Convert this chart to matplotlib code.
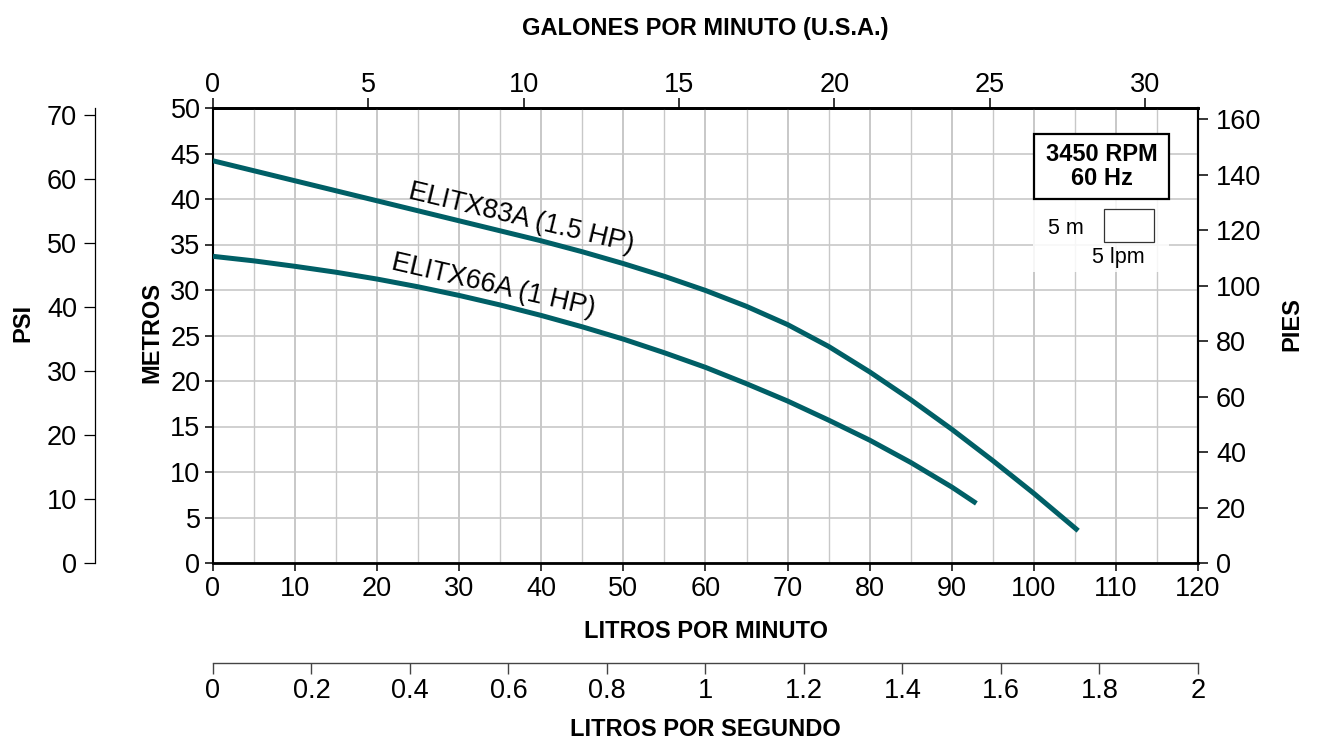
import matplotlib
matplotlib.use("Agg")
import matplotlib.pyplot as plt
from matplotlib.patches import Rectangle
from matplotlib.ticker import MultipleLocator, FuncFormatter

plt.rcParams['font.family'] = ['Liberation Sans', 'DejaVu Sans']

# ---- data ----
lpm_83 = [0, 5, 10, 15, 20, 25, 30, 35, 40, 45, 50, 55, 60, 65, 70, 75, 80, 85, 90, 95, 100, 105.4]
m_83 = [44.2, 43.1, 42.0, 40.9, 39.8, 38.7, 37.6, 36.5, 35.4, 34.2, 32.9, 31.5, 29.95,
        28.2, 26.2, 23.8, 21.0, 17.95, 14.7, 11.25, 7.65, 3.55]
lpm_66 = [0, 5, 10, 15, 20, 25, 30, 35, 40, 45, 50, 55, 60, 65, 70, 75, 80, 85, 90, 93.0]
m_66 = [33.7, 33.2, 32.6, 31.95, 31.2, 30.35, 29.4, 28.35, 27.2, 25.95, 24.6, 23.1, 21.5,
        19.7, 17.8, 15.7, 13.5, 11.05, 8.35, 6.55]
curve_labels = ["ELITX83A (1.5 HP)", "ELITX66A (1 HP)"]

lpm_ticks = list(range(0, 121, 10))
m_ticks = list(range(0, 51, 5))
gpm_ticks = list(range(0, 31, 5))
ft_ticks = list(range(0, 161, 20))
psi_ticks = list(range(0, 71, 10))
lps_ticks = [0, 0.2, 0.4, 0.6, 0.8, 1, 1.2, 1.4, 1.6, 1.8, 2]

L_PER_GAL = 3.78541
PSI_PER_M = 1.42233
FT_PER_M = 3.28084

COLOR = "#005f66"
GRID = "#c8c8c8"
TICK_FS = 19.5
TITLE_FS = 17

W, H = 1318, 744
fig = plt.figure(figsize=(W / 100, H / 100), dpi=100)
Lp, Rp, Tp, Bp = 213, 1198, 108, 563
ax = fig.add_axes([Lp / W, 1 - Bp / H, (Rp - Lp) / W, (Bp - Tp) / H])

ax.set_xlim(0, 120)
ax.set_ylim(0, 50)
ax.set_xticks(lpm_ticks)
ax.set_yticks(m_ticks)
ax.xaxis.set_minor_locator(MultipleLocator(5))
ax.set_axisbelow(True)
ax.grid(which='major', axis='x', color=GRID, lw=1.4)
ax.grid(which='minor', axis='x', color=GRID, lw=1.0)
ax.grid(which='major', axis='y', color=GRID, lw=1.2)
ax.tick_params(axis='both', which='major', direction='out', length=6, width=1.1,
               labelsize=TICK_FS, pad=3)
ax.tick_params(axis='x', which='minor', length=0)
ax.spines['top'].set_linewidth(2.0)
ax.spines['bottom'].set_linewidth(2.0)
ax.spines['left'].set_linewidth(1.5)
ax.spines['right'].set_linewidth(1.5)

ax.plot(lpm_83, m_83, color=COLOR, lw=3.6, solid_capstyle='butt',
        solid_joinstyle='round', zorder=3)
ax.plot(lpm_66, m_66, color=COLOR, lw=3.6, solid_capstyle='butt',
        solid_joinstyle='round', zorder=3)

ax.text(37.6, 37.9, curve_labels[0], fontsize=19.5, rotation=-13.5,
        ha='center', va='center', rotation_mode='anchor', zorder=4)
ax.text(34.2, 30.5, curve_labels[1], fontsize=19.5, rotation=-13.0,
        ha='center', va='center', rotation_mode='anchor', zorder=4)

# legend-like box
ax.add_patch(Rectangle((0.8325, 0.6396), 0.9706 - 0.8325, 0.8 - 0.6396,
                       transform=ax.transAxes, facecolor='white', edgecolor='none',
                       alpha=0.85, zorder=1))
ax.add_patch(Rectangle((0.8335, 0.80), 0.9706 - 0.8335, 0.9429 - 0.80,
                       transform=ax.transAxes, facecolor='white', edgecolor='black',
                       lw=1.6, zorder=2))
ax.text(0.902, 0.8714, "3450 RPM\n60 Hz", transform=ax.transAxes, fontsize=17,
        fontweight='bold', ha='center', va='center', linespacing=1.05, zorder=3)
ax.add_patch(Rectangle((0.9046, 0.7048), 0.9553 - 0.9046, 0.7787 - 0.7048,
                       transform=ax.transAxes, facecolor='white', edgecolor='#333333',
                       lw=0.9, zorder=2))
ax.text(0.866, 0.7341, "5 m", transform=ax.transAxes, fontsize=15.5,
        ha='center', va='center', zorder=3)
ax.text(0.9188, 0.6725, "5 lpm", transform=ax.transAxes, fontsize=15.5,
        ha='center', va='center', zorder=3)

# top axis: gallons per minute
top = ax.secondary_xaxis('top', functions=(lambda x: x / L_PER_GAL, lambda g: g * L_PER_GAL))
top.set_xticks(gpm_ticks)
top.tick_params(direction='out', length=7, width=1.1, labelsize=TICK_FS, pad=0)
top.spines['top'].set_linewidth(2.0)

# right axis: feet
right = ax.secondary_yaxis('right', functions=(lambda m: m * FT_PER_M, lambda f: f / FT_PER_M))
right.set_yticks(ft_ticks)
right.tick_params(direction='out', length=7, width=1.1, labelsize=TICK_FS, pad=6)
right.spines['right'].set_linewidth(1.5)

# PSI axis on the far left
axp = fig.add_axes([95 / W, 1 - Bp / H, 0.0005, (Bp - Tp) / H])
axp.set_ylim(0, 50 * PSI_PER_M)
axp.set_yticks(psi_ticks)
axp.set_xticks([])
for s in ['top', 'right', 'bottom']:
    axp.spines[s].set_visible(False)
axp.spines['left'].set_linewidth(0.9)
axp.patch.set_visible(False)
axp.tick_params(axis='y', direction='out', length=8, width=0.9, labelsize=TICK_FS, pad=5)

# litres per second axis at the bottom
axs = fig.add_axes([Lp / W, 1 - 663 / H, (Rp - Lp) / W, 0.0005])
axs.set_xlim(0, 2)
axs.set_xticks(lps_ticks)
axs.xaxis.set_major_formatter(FuncFormatter(lambda v, p: f"{v:g}"))
axs.set_yticks([])
for s in ['top', 'right', 'left']:
    axs.spines[s].set_visible(False)
axs.spines['bottom'].set_linewidth(1.0)
axs.spines['bottom'].set_color('#444444')
axs.patch.set_visible(False)
axs.tick_params(axis='x', direction='out', length=8, width=1.0, color='#444444',
                labelsize=TICK_FS, pad=3)

# titles
cx = (Lp + Rp) / 2 / W
fig.text(cx, 1 - 28 / H, "GALONES POR MINUTO (U.S.A.)", fontsize=TITLE_FS,
         fontweight='bold', ha='center', va='center')
fig.text(cx, 1 - 632 / H, "LITROS POR MINUTO", fontsize=TITLE_FS,
         fontweight='bold', ha='center', va='center')
fig.text(cx, 1 - 730 / H, "LITROS POR SEGUNDO", fontsize=TITLE_FS,
         fontweight='bold', ha='center', va='center')
fig.text(23 / W, 1 - 323 / H, "PSI", fontsize=TITLE_FS, fontweight='bold',
         rotation=90, ha='center', va='center')
fig.text(152 / W, 1 - 333 / H, "METROS", fontsize=TITLE_FS, fontweight='bold',
         rotation=90, ha='center', va='center')
fig.text(1292 / W, 1 - 324 / H, "PIES", fontsize=TITLE_FS, fontweight='bold',
         rotation=90, ha='center', va='center')

fig.savefig("out.png", dpi=100)
